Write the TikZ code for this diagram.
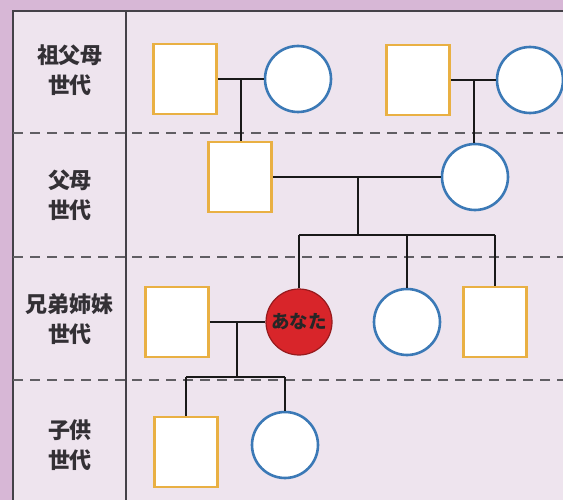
\documentclass[tikz,border=0pt]{standalone}
\usepackage{fontspec}
\newfontfamily\jp{Noto Sans CJK JP}
\usetikzlibrary{calc}
\definecolor{outerbg}{HTML}{D7B7D6}
\definecolor{panelbg}{HTML}{EEE4EE}
\definecolor{framec}{HTML}{444148}
\definecolor{sqc}{HTML}{E9B043}
\definecolor{cic}{HTML}{3B79B6}
\definecolor{youc}{HTML}{D8252A}
\definecolor{txtc}{HTML}{333035}
\begin{document}
\begin{tikzpicture}[x=1pt,y=-1pt,
  frameline/.style={draw=framec,line width=2.8pt},
  sepline/.style={draw=framec!85,line width=2.2pt,dash pattern=on 10pt off 7pt},
  lbl/.style={font=\jp\bfseries\fontsize{22}{30}\selectfont,text=txtc,align=center,inner sep=0pt},
  male/.style={draw=sqc,fill=white,line width=2.6pt,minimum width=63pt,minimum height=70pt,inner sep=0pt},
  female/.style={circle,draw=cic,fill=white,line width=2.6pt,minimum size=66pt,inner sep=0pt},
  self/.style={circle,draw=youc!70!black,fill=youc,line width=1.2pt,minimum size=66pt,inner sep=0pt,
    font=\jp\bfseries\fontsize{18.5}{20}\selectfont,text=black!85},
  link/.style={draw=black!90,line width=2.3pt}]
\useasboundingbox (0,0) rectangle (563,500);
\fill[outerbg] (0,0) rectangle (563,500);
\fill[panelbg] (13,11) rectangle (563,500);
\draw[frameline] (13,500) -- (13,11) -- (563,11);
\draw[frameline] (126,11) -- (126,500);
\foreach \yy in {133,257,380} \draw[sepline] (13,\yy) -- (563,\yy);
% row labels
\node[lbl] (l1) at (70,70) {祖父母\\世代};
\node[lbl] (l2) at (70,195) {父母\\世代};
\node[lbl] (l3) at (70,319) {兄弟姉妹\\世代};
\node[lbl] (l4) at (70,445) {子供\\世代};
% grandparents
\node[male] (gp1) at (185,79) {};
\node[female] (gc1) at (298,79) {};
\node[male] (gp2) at (418,80) {};
\node[female] (gc2) at (530,80) {};
% parents
\node[male] (fa) at (240,177) {};
\node[female] (mo) at (475,177) {};
% siblings
\node[male] (sp) at (177,322) {};
\node[self] (you) at (299,322) {あなた};
\node[female] (sib1) at (407,322) {};
\node[male] (sib2) at (495,322) {};
% children
\node[male] (ch1) at (186,452) {};
\node[female] (ch2) at (285,445) {};
% connectors
\coordinate (j1) at (241,79);
\coordinate (j2) at (474,80);
\coordinate (j3) at (358,177);
\coordinate (b3) at (358,235);
\coordinate (j4) at (237,322);
\coordinate (b4) at (237,377);
\draw[link] (gp1.east) -- (gc1.west);
\draw[link] (j1) -- (j1 |- fa.north);
\draw[link] (gp2.east) -- (gc2.west);
\draw[link] (j2) -- (j2 |- mo.north);
\draw[link] (fa.east) -- (mo.west);
\draw[link] (j3) -- (b3);
\draw[link] (you.north |- b3) -- (sib2.north |- b3);
\draw[link] (you.north |- b3) -- (you.north);
\draw[link] (sib1.north |- b3) -- (sib1.north);
\draw[link] (sib2.north |- b3) -- (sib2.north);
\draw[link] (sp.east) -- (you.west);
\draw[link] (j4) -- (b4);
\draw[link] (ch1.north |- b4) -- (ch2.north |- b4);
\draw[link] (ch1.north |- b4) -- (ch1.north);
\draw[link] (ch2.north |- b4) -- (ch2.north);
\end{tikzpicture}
\end{document}
